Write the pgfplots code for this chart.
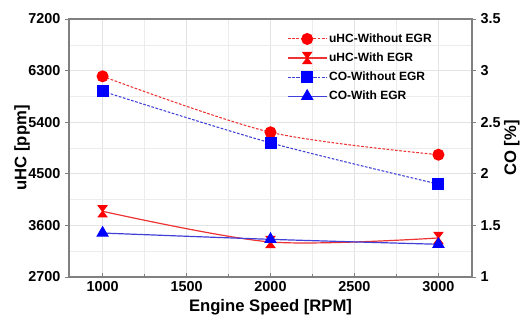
\documentclass[border=0pt]{standalone}
\usepackage{fontspec}
\setmainfont{Liberation Sans}
\usepackage{pgfplots}
\pgfplotsset{compat=1.18}

\pgfdeclareplotmark{hourglass}{%
 \pgfpathmoveto{\pgfqpoint{-0.75\pgfplotmarksize}{\pgfplotmarksize}}%
 \pgfpathlineto{\pgfqpoint{0.75\pgfplotmarksize}{\pgfplotmarksize}}%
 \pgfpathlineto{\pgfqpoint{-0.75\pgfplotmarksize}{-\pgfplotmarksize}}%
 \pgfpathlineto{\pgfqpoint{0.75\pgfplotmarksize}{-\pgfplotmarksize}}%
 \pgfpathclose
 \pgfusepathqfillstroke}

\definecolor{lred}{rgb}{0.93,0.2,0.2}
\definecolor{lblue}{rgb}{0.25,0.25,0.85}
\definecolor{axgray}{rgb}{0.5,0.5,0.5}

\pgfplotsset{
  common/.style={
    at={(0,0)}, anchor=south west, scale only axis,
    width=302.25pt, height=193.5pt,
    xmin=800, xmax=3200,
    axis line style={axgray, line width=0.8pt},
    tick style={axgray, line width=0.6pt},
    major tick length=3pt, minor tick length=2pt,
    /pgf/number format/assume math mode=true,
    scaled ticks=false,
    /pgf/number format/set thousands separator={},
    ticklabel style={font=\bfseries\fontsize{10.8}{12}\selectfont},
    label style={font=\bfseries\fontsize{12.5}{14}\selectfont},
  },
  dsh/.style={dash pattern=on 2pt off 1.2pt},
}

\begin{document}
\begin{tikzpicture}
\path[use as bounding box] (-51.75pt,-35.25pt) rectangle (338.25pt,207.75pt);

\begin{axis}[common,
  ymin=2700, ymax=7200,
  xtick={1000,1500,...,3000}, ytick={2700,3600,...,7200},
  minor x tick num=1, minor y tick num=1,
  grid=both,
  major grid style={gray!22, line width=0.5pt},
  minor grid style={gray!15, line width=0.4pt},
  xtick pos=bottom, ytick pos=left,
  xtick align=inside, ytick align=outside,
  minor y tick style={draw=none},
  xlabel={Engine Speed [RPM]}, ylabel={uHC [ppm]},
  xlabel style={yshift=1pt},
  ylabel style={at={(axis description cs:-0.1166,0.5)}, anchor=center},
]
\addplot[lred, dsh, line width=0.8pt, smooth, mark=*, mark size=4.1pt,
  mark options={solid, fill=red, draw=red}]
  coordinates {(1000,6200) (2000,5224) (3000,4833)};
\addplot[lred, solid, line width=0.9pt, smooth, mark=hourglass, mark size=4.1pt,
  mark options={solid, fill=red, draw=red}]
  coordinates {(1000,3846) (2000,3311) (3000,3381)};
\end{axis}

\begin{axis}[common,
  ymin=1, ymax=3.5,
  ytick={1,1.5,...,3.5},
  axis x line=none,
  axis y line*=right,
  ytick align=outside,
  ylabel={CO [\%]},
  ylabel style={at={(axis description cs:1.099,0.5)}, anchor=center},
  legend style={at={(0.531,0.965)}, anchor=north west, draw=none, fill=none,
    font=\bfseries\fontsize{9}{10}\selectfont,
    nodes={inner sep=1.5pt, text height=7pt, text depth=2pt},
    row sep=2.3pt},
  legend cell align=left,
  legend image code/.code={%
    \draw[mark repeat=2,mark phase=2] plot coordinates {(0pt,0pt) (14.5pt,0pt) (29pt,0pt)};},
]
\addlegendimage{lred, dsh, line width=0.8pt, mark=*, mark size=4.1pt, mark options={solid, fill=red, draw=red}}
\addlegendentry{uHC-Without EGR}
\addlegendimage{lred, solid, line width=0.9pt, mark=hourglass, mark size=4.1pt, mark options={solid, fill=red, draw=red}}
\addlegendentry{uHC-With EGR}
\addplot[lblue, dsh, line width=0.8pt, smooth, mark=square*, mark size=4.1pt,
  mark options={solid, fill=blue, draw=blue}]
  coordinates {(1000,2.80) (2000,2.30) (3000,1.90)};
\addlegendentry{CO-Without EGR}
\addplot[lblue, solid, line width=0.9pt, smooth, mark=triangle*, mark size=4.6pt,
  mark options={solid, fill=blue, draw=blue}]
  coordinates {(1000,1.426) (2000,1.365) (3000,1.317)};
\addlegendentry{CO-With EGR}
\end{axis}
\end{tikzpicture}
\end{document}
